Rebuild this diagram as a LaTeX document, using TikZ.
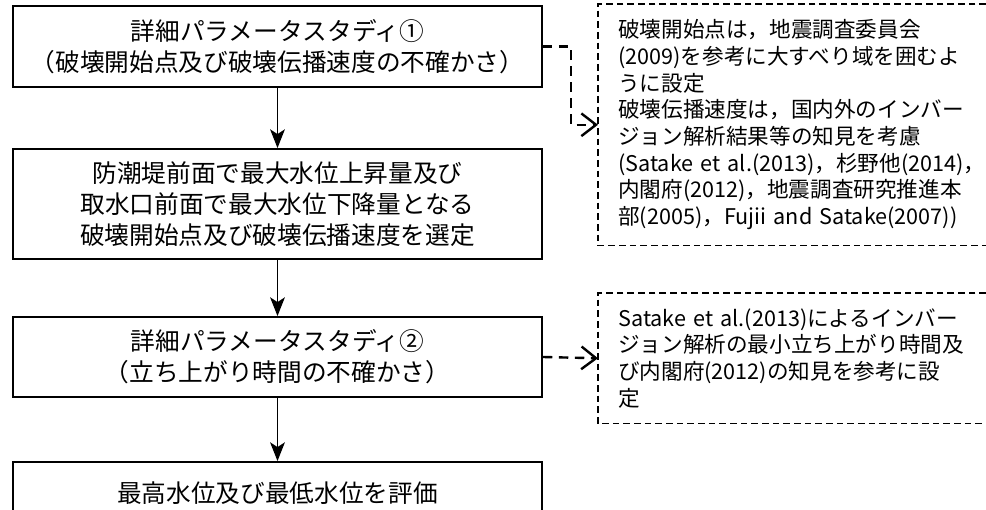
\documentclass[tikz,border=0pt]{standalone}
\usepackage{fontspec}
\setmainfont{Noto Sans CJK JP}
\usetikzlibrary{arrows.meta}

\begin{document}
\begin{tikzpicture}[x=0.75pt,y=-0.75pt,
  stepbox/.style={draw,line width=1.4pt,minimum width=396.75pt,inner sep=0pt,align=center,font=\fontsize{18.5}{23.5}\selectfont},
  notebox/.style={anchor=north west,align=left,text width=300pt,inner xsep=15pt,font=\fontsize{16.2}{20}\selectfont},
  noteline/.style={line width=1pt,dash pattern=on 5pt off 3pt},
  flow/.style={-{Stealth[length=14pt,width=11pt,inset=3.5pt]},line width=1.4pt},
  refer/.style={-{Straight Barb[length=11pt,width=17pt]},line width=1.8pt,dash pattern=on 7pt off 5pt}]
\useasboundingbox (0,0) rectangle (986,510);
% flow boxes
\node[stepbox,minimum height=60.75pt] (b1) at (277.5,46.5) {詳細パラメータスタディ①\\（破壊開始点及び破壊伝播速度の不確かさ）};
\node[stepbox,minimum height=82.5pt] (b2) at (277.5,204) {防潮堤前面で最大水位上昇量及び\\取水口前面で最大水位下降量となる\\破壊開始点及び破壊伝播速度を選定};
\node[stepbox,minimum height=60pt] (b3) at (277.5,357) {詳細パラメータスタディ②\\（立ち上がり時間の不確かさ）};
\begin{scope}
\clip (0,0) rectangle (986,510);
\node[stepbox,minimum height=46.5pt] (b4) at (277.5,493) {最高水位及び最低水位を評価};
\end{scope}
% notes, open on the right where the page ends
\node[notebox,minimum height=180.75pt] (n1) at (598,4) {破壊開始点は，地震調査委員会\\(2009)を参考に大すべり域を囲むよ\\うに設定\\破壊伝播速度は，国内外のインバー\\ジョン解析結果等の知見を考慮\\(Satake et al.(2013)，杉野他(2014)，\\内閣府(2012)，地震調査研究推進本\\部(2005)，Fujii and Satake(2007))};
\node[notebox,minimum height=97.5pt] (n2) at (598,293) {Satake et al.(2013)によるインバー\\ジョン解析の最小立ち上がり時間及\\び内閣府(2012)の知見を参考に設\\定};
\draw[noteline] (986,0 |- n1.north) -- (n1.north west) -- (n1.south west) -- (986,0 |- n1.south);
\draw[noteline] (986,0 |- n2.north) -- (n2.north west) -- (n2.south west) -- (986,0 |- n2.south);
% connectors
\draw[flow] (b1) -- (b2);
\draw[flow] (b2) -- (b3);
\draw[flow] (b3) -- (b4);
\draw[refer] (b1.east) -- ++(28,0) |- (n1.west);
\draw[refer] (b3.east) -- (n2.west);
\end{tikzpicture}
\end{document}
